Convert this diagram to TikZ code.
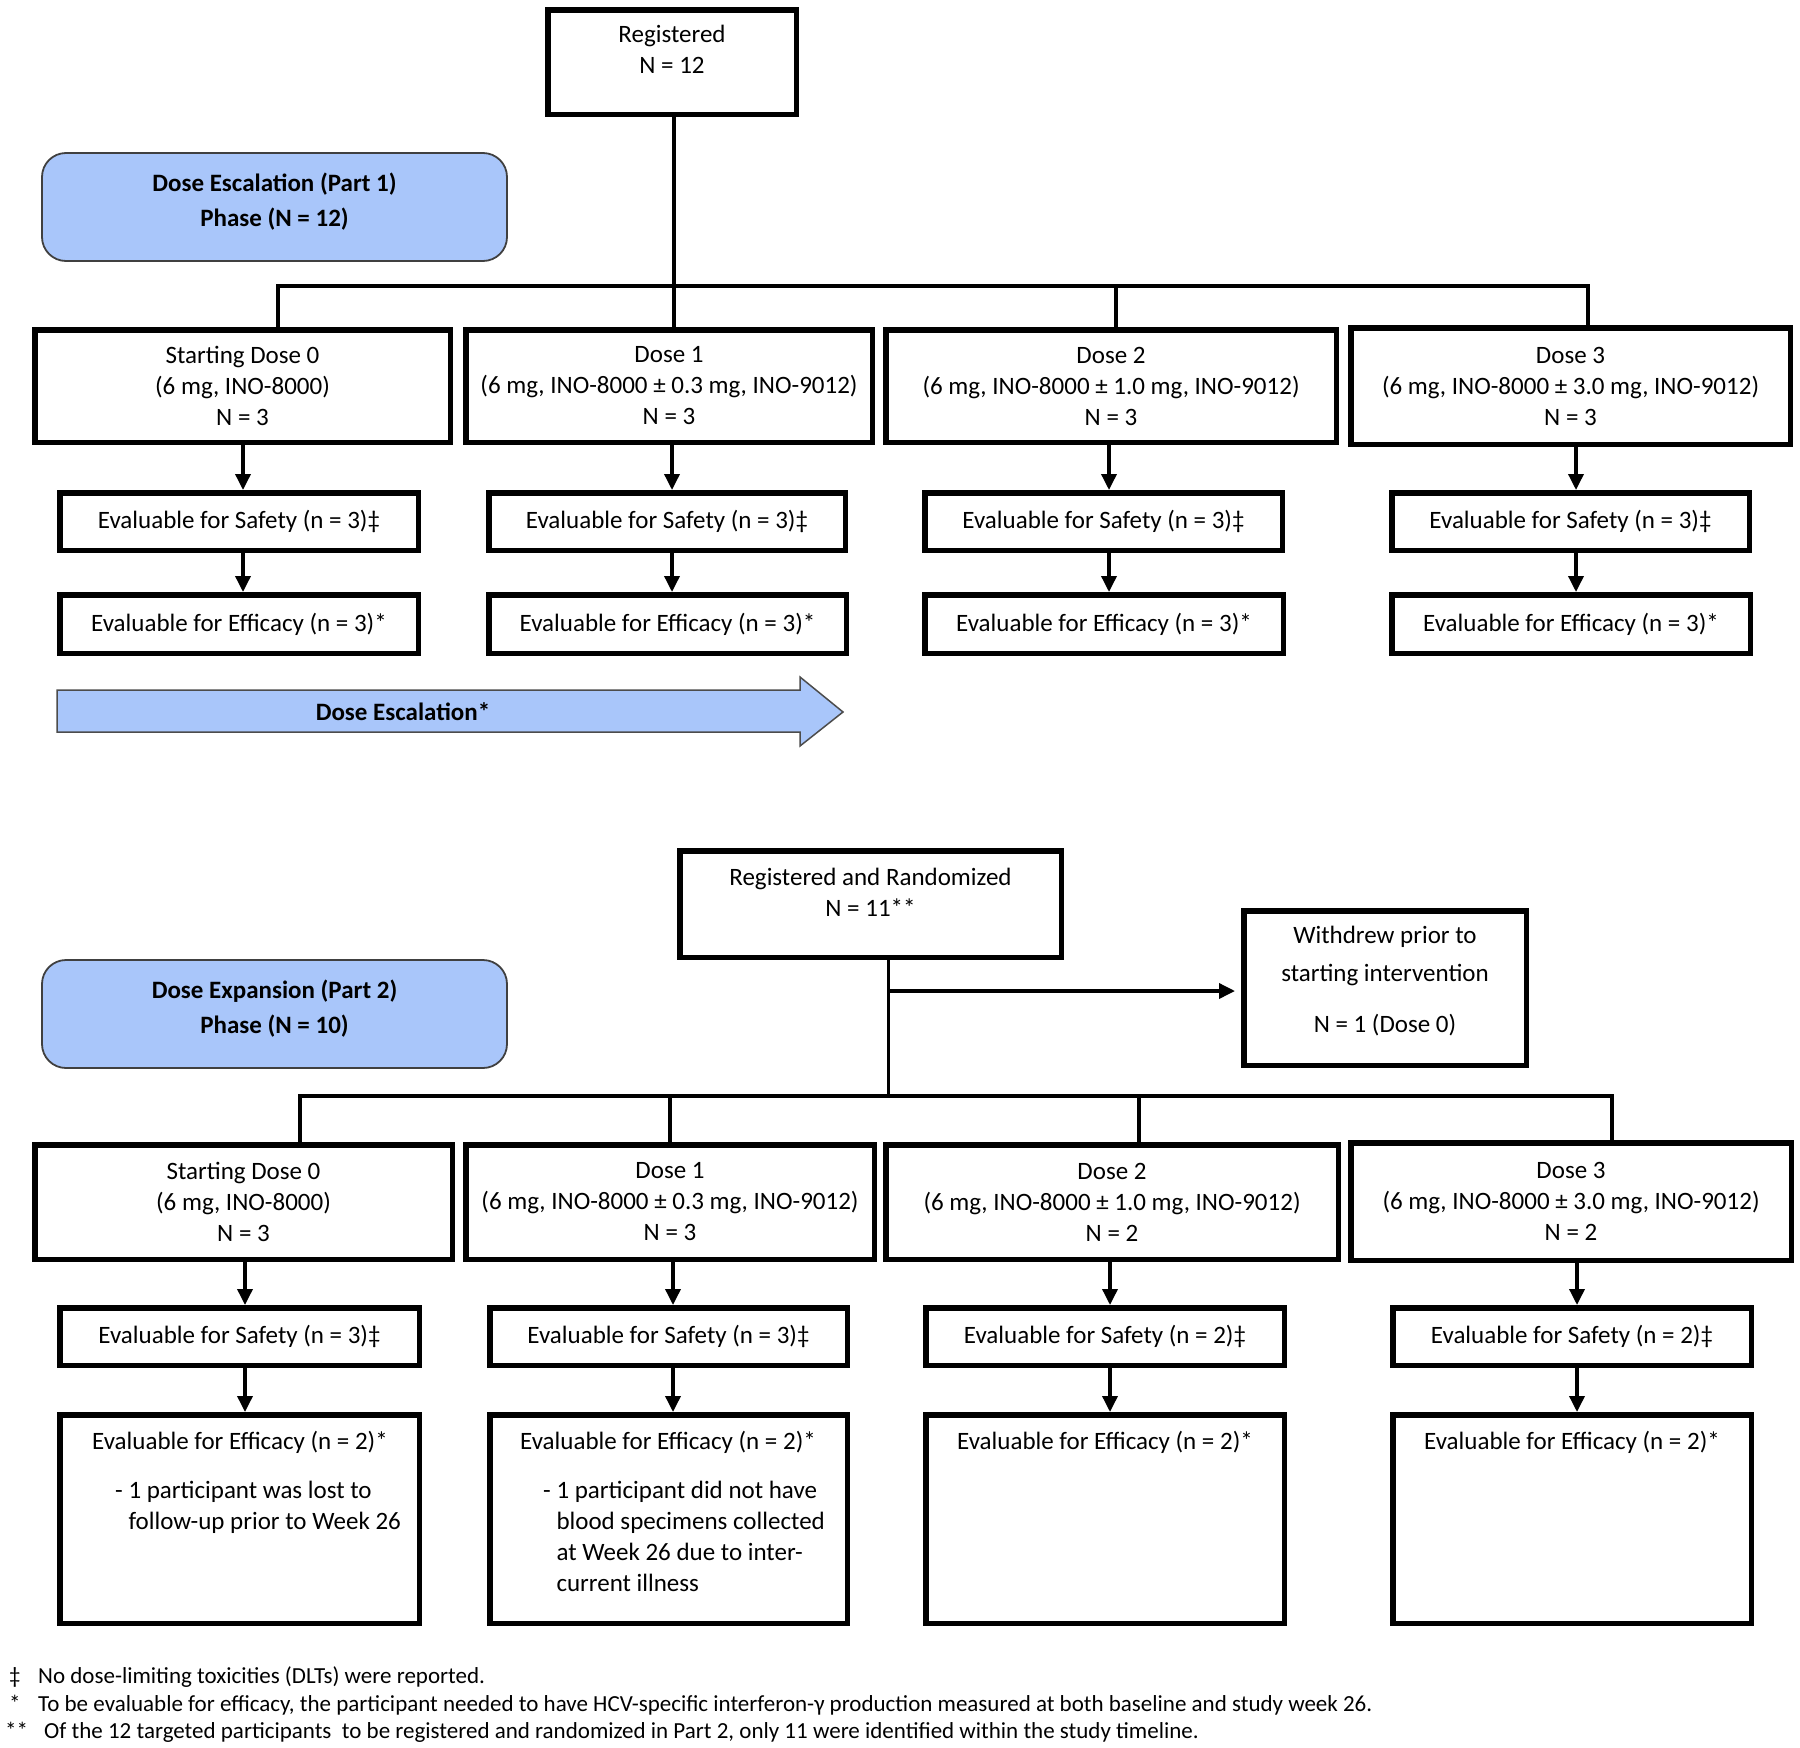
\documentclass[tikz,border=0pt]{standalone}
\usepackage{fontspec}
\setmainfont{Carlito}
\usetikzlibrary{arrows.meta,calc}
\definecolor{phaseblue}{RGB}{169,198,250}
\newcommand\mainfs{\fontsize{25}{31}\selectfont}
\newcommand\bx[6]{\node[box,minimum width={#4-#2-5.5},minimum height={#5-#3-5.5}] (#1) at ({(#2+#4)/2},{(#3+#5)/2}) {#6};}
\begin{document}
\begin{tikzpicture}[x=1pt,y=-1pt,
  box/.style={draw,line width=5.5pt,rectangle,inner sep=0pt,align=center,font=\mainfs},
  txt/.style={inner sep=0pt,align=center,font=\mainfs},
  ltxt/.style={inner sep=0pt,align=left,font=\mainfs},
  bold/.style={inner sep=0pt,align=center,font=\fontsize{25}{35}\selectfont\bfseries},
  fn/.style={inner sep=0pt,font=\fontsize{23}{27}\selectfont},
  conn/.style={line width=3.5pt},
  arr/.style={conn,-{Triangle[length=16pt,width=15pt]}},
  phase/.style={draw=black!75,line width=1.8pt,fill=phaseblue,rounded corners=24pt,inner sep=0pt}]
\useasboundingbox (0,0) rectangle (1800,1748);

% ---------------- Part 1 ----------------
\bx{reg}{545}{7}{799}{117}{}
\node[txt] (regt) at (672,49.5) {Registered\\N = 12};

\node[phase,minimum width=465,minimum height=108] (ph1) at (274.5,207) {};
\node[bold] (ph1t) at (274.5,201.5) {Dose Escalation (Part 1)\\Phase (N = 12)};

\bx{d0}{32}{327}{453}{445}{Starting Dose 0\\(6 mg, INO-8000)\\N = 3}
\bx{d1}{463}{327}{875}{445}{Dose 1\\(6 mg, INO-8000 ± 0.3 mg, INO-9012)\\N = 3}
\bx{d2}{883}{327}{1339}{445}{Dose 2\\(6 mg, INO-8000 ± 1.0 mg, INO-9012)\\N = 3}
\bx{d3}{1348}{325}{1793}{447}{Dose 3\\(6 mg, INO-8000 ± 3.0 mg, INO-9012)\\N = 3}

\bx{s0}{57}{490}{421}{553}{Evaluable for Safety (n = 3)‡}
\bx{s1}{486}{490}{848}{553}{Evaluable for Safety (n = 3)‡}
\bx{s2}{922}{490}{1285}{553}{Evaluable for Safety (n = 3)‡}
\bx{s3}{1389}{490}{1752}{553}{Evaluable for Safety (n = 3)‡}

\bx{f0}{57}{592}{421}{656}{Evaluable for Efficacy (n = 3)*}
\bx{f1}{486}{592}{849}{656}{Evaluable for Efficacy (n = 3)*}
\bx{f2}{922}{592}{1286}{656}{Evaluable for Efficacy (n = 3)*}
\bx{f3}{1389}{592}{1753}{656}{Evaluable for Efficacy (n = 3)*}

\coordinate (bus1) at (674,286);
\draw[conn] ([xshift=2pt]reg.south) -- ([xshift=2pt]reg.south |- d1.north);
\draw[conn] ([xshift=35.5pt]d0.north) -- ([xshift=35.5pt]d0.north |- bus1)
  -- ([xshift=17.5pt]d3.north |- bus1) -- ([xshift=17.5pt]d3.north);
\draw[conn] ([xshift=5pt]d2.north) -- ([xshift=5pt]d2.north |- bus1);

\foreach \i/\dx in {0/0.5,1/3,2/-2,3/5.5}{
  \draw[arr] ([xshift=\dx pt]d\i.south) -- ([xshift=\dx pt]d\i.south |- s\i.north);
  \draw[arr] ([xshift=\dx pt]d\i.south |- s\i.south) -- ([xshift=\dx pt]d\i.south |- f\i.north);
}

\draw[draw=black!70,line width=1.5pt,fill=phaseblue] (57,690) -- (800,690) -- (800,677) -- (843,712)
  -- (800,746) -- (800,732) -- (57,732) -- cycle;
\node[bold] (esc) at (403,712) {Dose Escalation*};

% ---------------- Part 2 ----------------
\bx{rr}{677}{848}{1064}{960}{}
\node[txt] (rrt) at (870.5,892) {Registered and Randomized\\N = 11**};

\bx{wd}{1241}{908}{1529}{1068}{}
\node[txt,font=\fontsize{25}{38}\selectfont] (wdt) at (1385,981.5) {Withdrew prior to\\starting intervention\\[13pt]N = 1 (Dose 0)};

\node[phase,minimum width=465,minimum height=108] (ph2) at (274.5,1014) {};
\node[bold] (ph2t) at (274.5,1008.5) {Dose Expansion (Part 2)\\Phase (N = 10)};

\bx{e0}{32}{1142}{455}{1262}{Starting Dose 0\\(6 mg, INO-8000)\\N = 3}
\bx{e1}{463}{1142}{877}{1262}{Dose 1\\(6 mg, INO-8000 ± 0.3 mg, INO-9012)\\N = 3}
\bx{e2}{883}{1142}{1341}{1262}{Dose 2\\(6 mg, INO-8000 ± 1.0 mg, INO-9012)\\N = 2}
\bx{e3}{1348}{1140}{1794}{1263}{Dose 3\\(6 mg, INO-8000 ± 3.0 mg, INO-9012)\\N = 2}

\bx{t0}{57}{1305}{422}{1368}{Evaluable for Safety (n = 3)‡}
\bx{t1}{487}{1305}{850}{1368}{Evaluable for Safety (n = 3)‡}
\bx{t2}{923}{1305}{1287}{1368}{Evaluable for Safety (n = 2)‡}
\bx{t3}{1390}{1305}{1754}{1368}{Evaluable for Safety (n = 2)‡}

\bx{g0}{57}{1412}{422}{1626}{}
\bx{g1}{487}{1412}{850}{1626}{}
\bx{g2}{923}{1412}{1287}{1626}{}
\bx{g3}{1390}{1412}{1754}{1626}{}
\node[txt] (g0t) at (240,1442) {Evaluable for Efficacy (n = 2)*};
\node[txt] (g1t) at (668,1442) {Evaluable for Efficacy (n = 2)*};
\node[txt] (g2t) at (1105,1442) {Evaluable for Efficacy (n = 2)*};
\node[txt] (g3t) at (1572,1442) {Evaluable for Efficacy (n = 2)*};
\node[ltxt,anchor=north west] (g0s) at (115,1481) {- 1 participant was lost to\\\hphantom{-\ }follow-up prior to Week 26};
\node[ltxt,anchor=north west] (g1s) at (543,1481) {- 1 participant did not have\\\hphantom{-\ }blood specimens collected\\\hphantom{-\ }at Week 26 due to inter-\\\hphantom{-\ }current illness};

\coordinate (bus2) at (889,1096);
\coordinate (wj) at (889,991);
\draw[conn] ([xshift=18pt]rr.south) -- ([xshift=18pt]rr.south |- bus2);
\draw[arr,shorten >=6pt] (wj) -- (wj -| wd.west);
\draw[conn] ([xshift=56.5pt]e0.north) -- ([xshift=56.5pt]e0.north |- bus2)
  -- ([xshift=41pt]e3.north |- bus2) -- ([xshift=41pt]e3.north);
\draw[conn] (e1.north) -- (e1.north |- bus2);
\draw[conn] ([xshift=27pt]e2.north) -- ([xshift=27pt]e2.north |- bus2);

\foreach \i/\dx in {0/1.5,1/3,2/-2,3/6}{
  \draw[arr] ([xshift=\dx pt]e\i.south) -- ([xshift=\dx pt]e\i.south |- t\i.north);
  \draw[arr] ([xshift=\dx pt]e\i.south |- t\i.south) -- ([xshift=\dx pt]e\i.south |- g\i.north);
}

% ---------------- Footnotes ----------------
\node[fn,anchor=base west] (fn1s) at (9,1683) {‡};
\node[fn,anchor=base west] (fn1) at (38,1683) {No dose-limiting toxicities (DLTs) were reported.};
\node[fn,anchor=base west] (fn2s) at (9,1711) {*};
\node[fn,anchor=base west] (fn2) at (38,1711) {To be evaluable for efficacy, the participant needed to have HCV-specific interferon-γ production measured at both baseline and study week 26.};
\node[fn,anchor=base west] (fn3s) at (5,1738) {**};
\node[fn,anchor=base west] (fn3) at (44,1738) {Of the 12 targeted participants\ \ to be registered and randomized in Part 2, only 11 were identified within the study timeline.};
\end{tikzpicture}
\end{document}
